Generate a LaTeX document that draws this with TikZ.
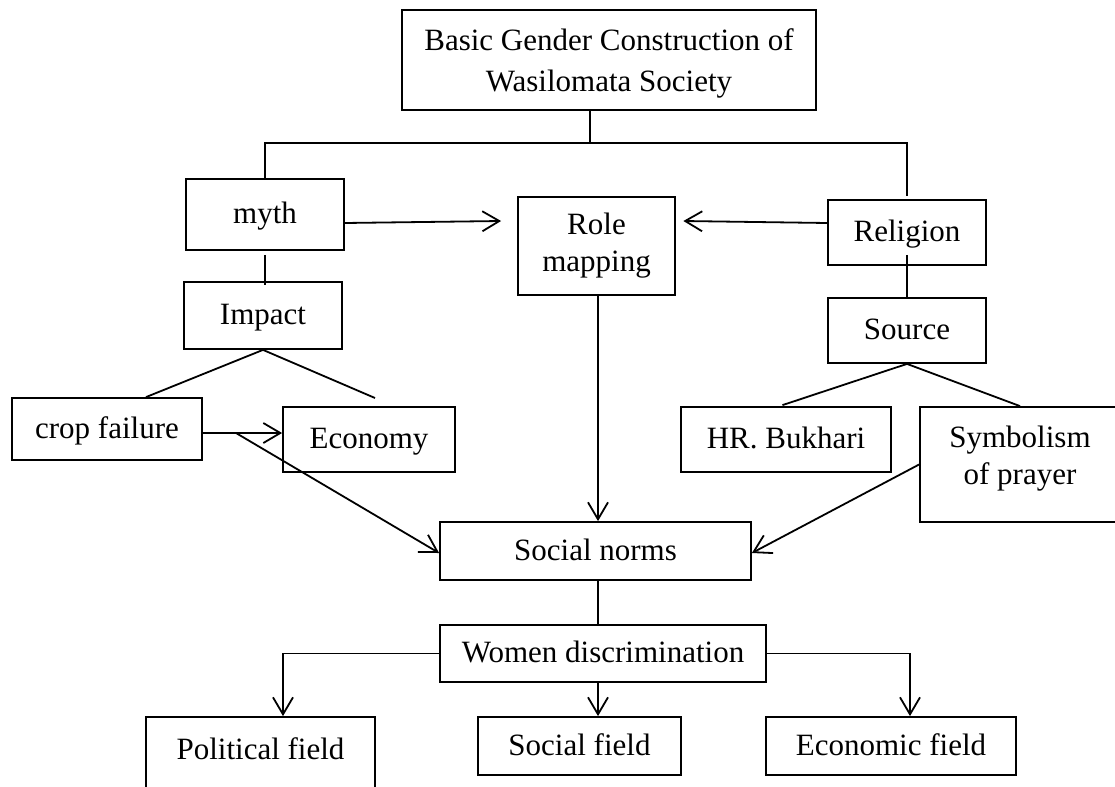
\documentclass[tikz,border=0pt]{standalone}
\usepackage{fontspec}
\setmainfont{Liberation Serif}
\usetikzlibrary{arrows.meta}

\tikzset{
  box/.style={draw, line width=0.9pt, inner sep=0pt, align=center},
  single/.style={text height=10.5pt, text depth=1.5pt},
  link/.style={line width=0.9pt},
  arr/.style={line width=0.9pt, -{Straight Barb[length=8.5pt,width=10pt]}},
}

\begin{document}
\begin{tikzpicture}[x=0.5pt, y=-0.5pt, font=\fontsize{15.5}{18.5}\selectfont]
                \clip (0,0) rectangle (1115,787);

                \node [box, minimum width=207pt, minimum height=50pt, text depth=0pt, font=\fontsize{15.5}{20.5}\selectfont] (title) at (609,60) {Basic Gender Construction of\\Wasilomata Society};
                \node [box, single, minimum width=78.75pt, minimum height=35.5pt] (myth) at (265,214.5) {myth};
                \node [box, minimum width=78.5pt, minimum height=49pt] (role) at (596.5,246) {Role\\mapping};
                \node [box, single, minimum width=79pt, minimum height=32.5pt] (religion) at (907,232.5) {Religion};
                \node [box, single, minimum width=79pt, minimum height=33.5pt] (impact) at (263,315.5) {Impact};
                \node [box, single, minimum width=79pt, minimum height=32.5pt] (source) at (907,330.5) {Source};
                \node [box, single, minimum width=95pt, minimum height=31pt] (crop) at (107,429) {crop failure};
                \node [box, single, minimum width=86pt, minimum height=32.5pt] (economy) at (369,439.5) {Economy};
                \node [box, single, minimum width=105pt, minimum height=32.5pt] (bukhari) at (786,439.5) {HR. Bukhari};
                \node [box, minimum width=100pt, minimum height=57.5pt, text depth=9pt] (symbol) at (1020,464.5) {Symbolism\\of prayer};
                \node [box, single, minimum width=155.5pt, minimum height=29pt] (norms) at (595.5,551) {Social norms};
                \node [box, single, minimum width=163pt, minimum height=28.5pt] (women) at (603,653.5) {Women discrimination};
                \node [box, minimum width=114.5pt, minimum height=43pt, text height=10.6pt, text depth=11.5pt] (political) at (260.5,760) {Political field};
                \node [box, single, minimum width=101.5pt, minimum height=29pt] (social) at (579.5,746) {Social field};
                \node [box, single, minimum width=125pt, minimum height=29pt] (economic) at (891,746) {Economic field};

                \coordinate (split) at (590,143);
                \coordinate (fork) at (236,433);
                \coordinate (impactend) at (375,398);

                \draw [link] (title.south -| split) -- (split);
                \draw [link] (myth.north) |- (split) -| ([yshift=1.5pt]religion.north);
                \draw [arr] ([yshift=-4.25pt]myth.east) -- ([xshift=-8pt,yshift=12.5pt]role.west);
                \draw [arr] ([yshift=4.75pt]religion.west) -- ([xshift=3.75pt,yshift=12.5pt]role.east);
                \draw [link] ([yshift=-2pt]myth.south) -- ([yshift=-2pt]myth.south |- impact.north);
                \draw [link] ([yshift=5.5pt]religion.south) -- (source.north);
                \draw [link] (impact.south) -- ([xshift=19.5pt]crop.north);
                \draw [link] (impact.south) -- (impactend);
                \draw [link] (source.south) -- ([xshift=-1.75pt,yshift=0.5pt]bukhari.north);
                \draw [link] (source.south) -- (symbol.north);
                \draw [arr] ([yshift=-2pt]crop.east) -- (fork -| economy.west);
                \draw [arr] (fork) -- ([yshift=-1pt]norms.west);
                \draw [arr] ([xshift=0.75pt]role.south) -- ([xshift=0.75pt]role.south |- norms.north);
                \draw [arr] (symbol.west) -- ([yshift=-1pt]norms.east);
                \draw [link] ([xshift=0.75pt]role.south |- norms.south) -- ([xshift=0.75pt]role.south |- women.north);
                \draw [arr] (women.west) -| ([xshift=11.25pt]political.north);
                \draw [arr] (women.east) -| ([xshift=9.5pt]economic.north);
                \draw [arr] ([xshift=0.75pt]role.south |- women.south) -- ([xshift=0.75pt]role.south |- social.north);
\end{tikzpicture}
\end{document}
